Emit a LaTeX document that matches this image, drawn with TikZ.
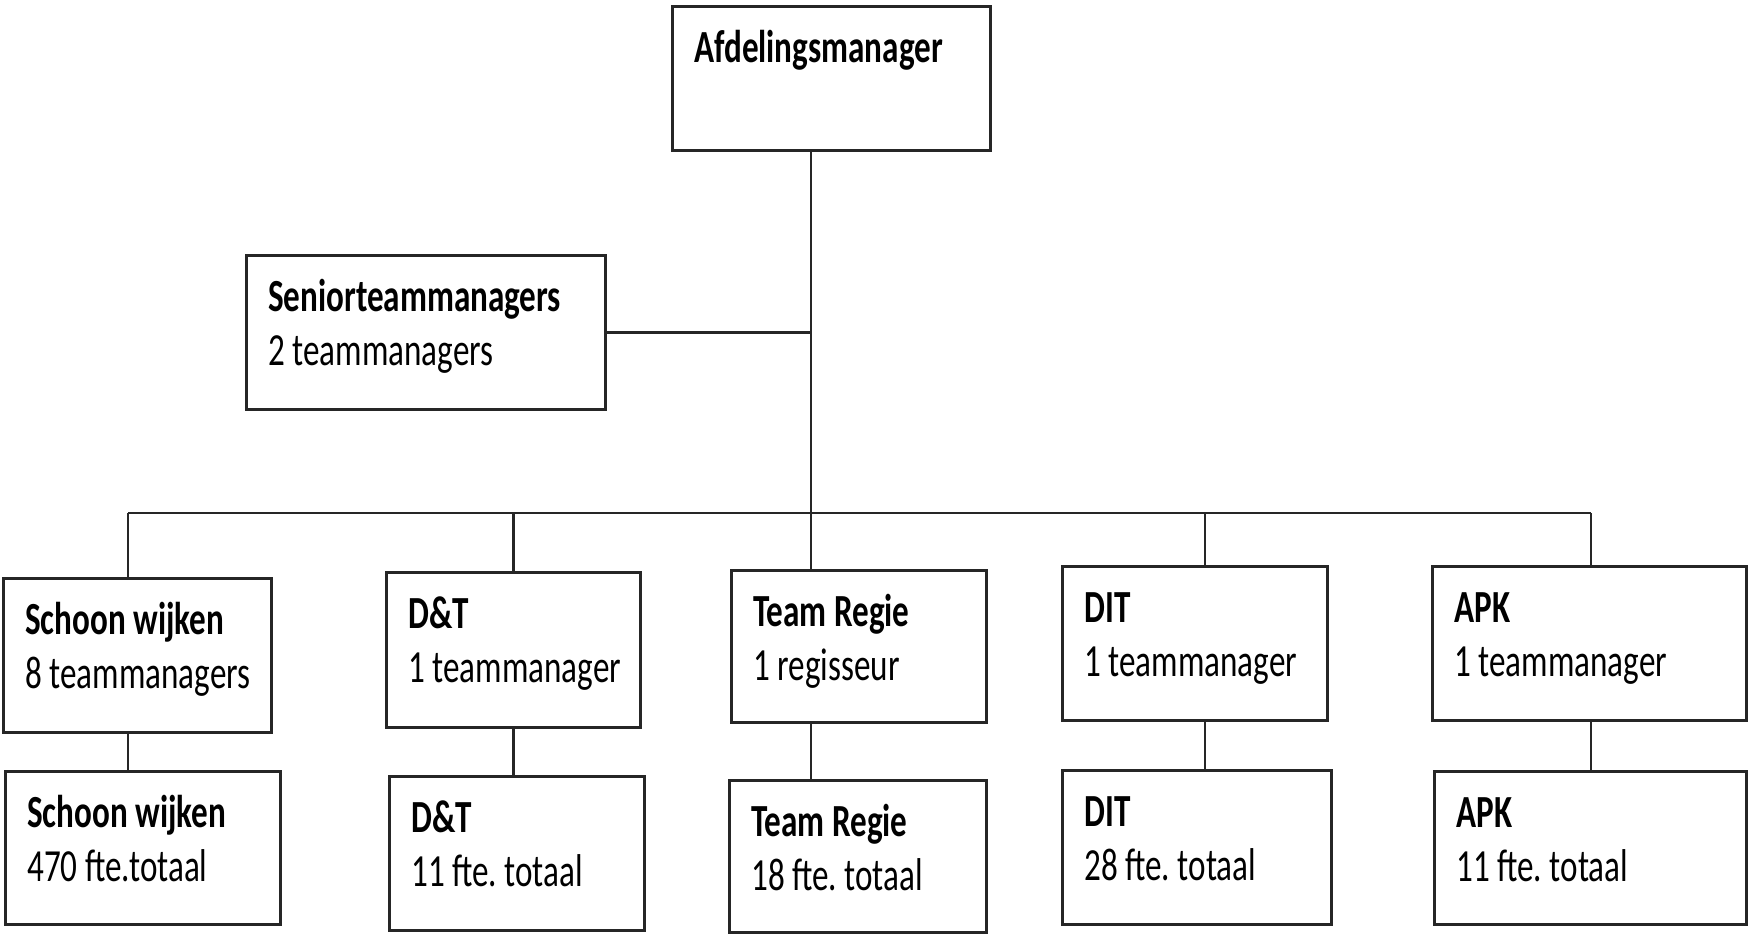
\documentclass[tikz,border=0pt]{standalone}
\usepackage{fontspec}
\setmainfont{Carlito}[FakeStretch=0.72]
\frenchspacing
\newlength\pxu \setlength\pxu{0.5pt}
\newcommand\bx[4]{%
  \parbox[t][#2\pxu][t]{#1\pxu}{\fontsize{23pt}{27pt}\selectfont\frenchspacing\raggedright\leftskip=22\pxu
    \vspace*{9.1pt}\strut\textbf{#3}\par\strut #4}}
\begin{document}
\begin{tikzpicture}[x=0.5pt,y=-0.5pt,
  box/.style={draw=black!85, line width=1.3pt, inner sep=0pt, anchor=north west},
  conn/.style={draw=black!85, line width=1.2pt}]
\useasboundingbox (0,0) rectangle (1748,933);
\node[box] (am) at (671,5) {\bx{318}{144}{Afdelingsmanager}{}};
\node[box] (st) at (245,254) {\bx{359}{154}{Seniorteammanagers}{2 teammanagers}};
\node[box] (sw1) at (2,577) {\bx{268}{154}{Schoon wijken}{8 teammanagers}};
\node[box] (dt1) at (385,571) {\bx{254}{155}{D\&T}{1 teammanager}};
\node[box] (tr1) at (730,569) {\bx{255}{152}{Team Regie}{1 regisseur}};
\node[box] (dit1) at (1061,565) {\bx{265}{154}{DIT}{1 teammanager}};
\node[box] (apk1) at (1431,565) {\bx{314}{154}{APK}{1 teammanager}};
\node[box] (sw2) at (4,770) {\bx{275}{153}{Schoon wijken}{470 fte.totaal}};
\node[box] (dt2) at (388,775) {\bx{255}{154}{D\&T}{11 fte. totaal}};
\node[box] (tr2) at (728,779) {\bx{257}{152}{Team Regie}{18 fte. totaal}};
\node[box] (dit2) at (1061,769) {\bx{269}{154}{DIT}{28 fte. totaal}};
\node[box] (apk2) at (1433,770) {\bx{312}{153}{APK}{11 fte. totaal}};
\coordinate (j) at (811,513);
\coordinate (bl) at (128,513);
\coordinate (br) at (1591,513);
\coordinate (dj) at (1205,513);
\draw[conn] (am.south -| j) -- (j);
\draw[conn] (st.east) -- (st.east -| j);
\draw[conn] (bl) -- (br);
\draw[conn] (bl) -- (bl |- sw1.north);
\draw[conn] (dt1.north) -- (dt1.north |- j);
\draw[conn] (j) -- (j |- tr1.north);
\draw[conn] (dj) -- (dj |- dit1.north);
\draw[conn] (br) -- (br |- apk1.north);
\draw[conn] (sw1.south -| bl) -- (sw2.north -| bl);
\draw[conn] (dt1.south) -- (dt1.south |- dt2.north);
\draw[conn] (tr1.south -| j) -- (tr2.north -| j);
\draw[conn] (dit1.south -| dj) -- (dit2.north -| dj);
\draw[conn] (apk1.south -| br) -- (apk2.north -| br);
\end{tikzpicture}
\end{document}
